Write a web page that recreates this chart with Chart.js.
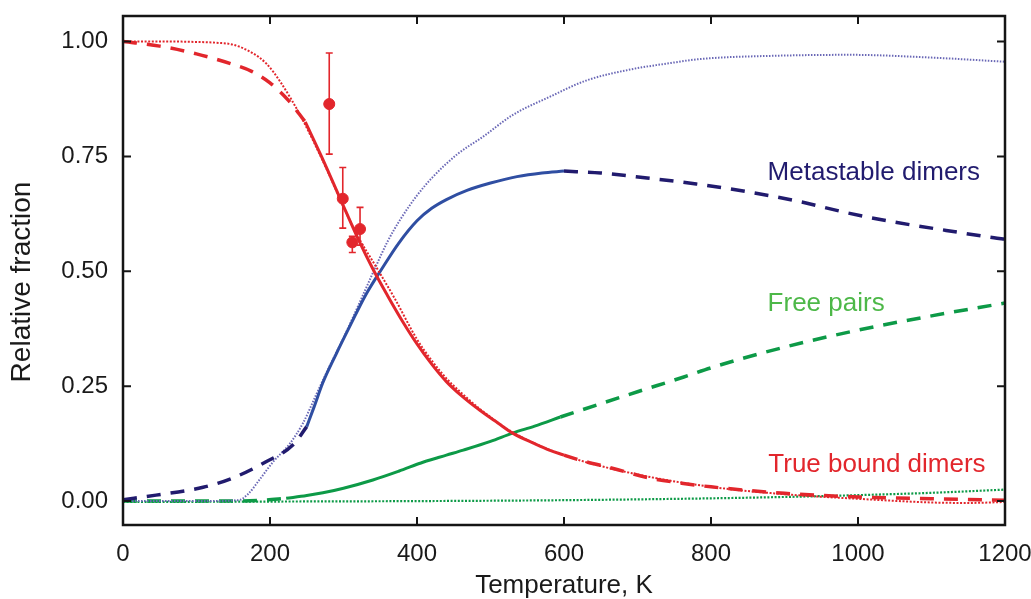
<!DOCTYPE html>
<html><head><meta charset="utf-8">
<script src="https://cdn.jsdelivr.net/npm/chart.js@4.4.1/dist/chart.umd.min.js"></script>
<style>html,body{margin:0;padding:0;background:#fff;}canvas{display:block;}</style>
</head><body>
<canvas id="c" width="1031" height="599"></canvas>
<script>
// ---------- axis ticks ----------
const xTicks = [0, 200, 400, 600, 800, 1000, 1200];
const yTicks = [0, 0.25, 0.5, 0.75, 1.0];

// ---------- True bound dimers (red) ----------
const tbdDashLowT = [0, 50, 100, 150, 175, 200, 225, 248];
const tbdDashLowV = [1.0, 0.99, 0.973, 0.95, 0.935, 0.91, 0.872, 0.825];
const tbdSolidT = [248, 270, 295, 320, 340, 360, 380, 400, 420, 440, 460, 486, 510, 530, 560, 580, 600];
const tbdSolidV = [0.825, 0.75, 0.66, 0.57, 0.505, 0.447, 0.392, 0.342, 0.298, 0.26, 0.23, 0.197, 0.17, 0.148, 0.125, 0.111, 0.1];
const tbdDashHighT = [600, 622, 667, 717, 760, 800, 900, 1000, 1100, 1200];
const tbdDashHighV = [0.1, 0.089, 0.071, 0.05, 0.039, 0.031, 0.017, 0.009, 0.005, 0.002];
const tbdDotT = [0, 60, 100, 130, 150, 175, 195, 215, 241, 260, 280, 300, 320, 345, 370, 400, 420, 440, 460, 486, 530, 600, 700, 800, 900, 1000, 1100, 1150, 1200];
const tbdDotV = [1.0, 1.0, 0.999, 0.997, 0.993, 0.976, 0.952, 0.91, 0.84, 0.78, 0.712, 0.64, 0.575, 0.508, 0.44, 0.352, 0.306, 0.267, 0.236, 0.2, 0.15, 0.1, 0.058, 0.031, 0.015, 0.005, -0.003, -0.004, -0.002];

// ---------- Metastable dimers (blue / navy) ----------
const mdDashLowT = [0, 45, 109, 149, 194, 231, 250];
const mdDashLowV = [0.003, 0.013, 0.03, 0.05, 0.085, 0.122, 0.162];
const mdSolidT = [250, 260, 272, 290, 310, 330, 352, 375, 400, 420, 440, 468, 500, 536, 570, 600];
const mdSolidV = [0.162, 0.205, 0.258, 0.32, 0.385, 0.448, 0.505, 0.561, 0.61, 0.637, 0.656, 0.676, 0.692, 0.706, 0.714, 0.718];
const mdDashHighT = [600, 650, 713, 780, 850, 920, 986, 1050, 1120, 1185, 1200];
const mdDashHighV = [0.718, 0.714, 0.703, 0.69, 0.673, 0.652, 0.627, 0.607, 0.589, 0.573, 0.57];
const mdDotT = [0, 100, 157, 170, 185, 204, 227, 245, 263, 280, 300, 320, 343, 360, 377, 400, 422, 455, 490, 530, 581, 630, 690, 740, 786, 888, 990, 1100, 1200];
const mdDotV = [0, 0, 0.002, 0.015, 0.045, 0.085, 0.125, 0.17, 0.232, 0.29, 0.355, 0.425, 0.507, 0.565, 0.612, 0.665, 0.706, 0.755, 0.793, 0.84, 0.88, 0.915, 0.939, 0.952, 0.962, 0.969, 0.971, 0.965, 0.956];

// ---------- Free pairs (green) ----------
const fpDashLowT = [0, 100, 150, 190, 222];
const fpDashLowV = [0, 0, 0, 0.002, 0.006];
const fpSolidT = [222, 250, 272, 300, 340, 375, 409, 440, 463, 500, 530, 560, 595];
const fpSolidV = [0.006, 0.012, 0.018, 0.028, 0.046, 0.065, 0.085, 0.1, 0.111, 0.13, 0.148, 0.163, 0.183];
const fpDashHighT = [595, 650, 700, 763, 800, 900, 1000, 1100, 1200];
const fpDashHighV = [0.183, 0.212, 0.238, 0.27, 0.29, 0.335, 0.372, 0.403, 0.431];
const fpDotT = [0, 200, 400, 600, 800, 900, 1000, 1100, 1200];
const fpDotV = [-0.002, -0.001, 0.0, 0.002, 0.006, 0.009, 0.013, 0.018, 0.025];

// ---------- Experimental points ----------
const expT = [280.6, 299, 312, 322.5];
const expV = [0.864, 0.658, 0.563, 0.592];
const expLo = [0.755, 0.594, 0.541, 0.557];
const expHi = [0.975, 0.726, 0.576, 0.639];

// ---------- Curve labels ----------
const labelNames = ['Metastable dimers', 'Free pairs', 'True bound dimers'];

// ---------- styling ----------
const RED = '#e2262c', BLUE = '#2f4ea2', NAVY = '#211b6e', PURPLE = '#6a68b6', GREEN = '#0d9a47';
const labelStyle = [
  {color: NAVY, at: [877, 0.6986]},
  {color: '#4db848', at: [877, 0.4135]},
  {color: RED, at: [878, 0.0631]}
];
const FONT = "'Liberation Sans', Arial, Helvetica, sans-serif";
const pts = (T, V) => T.map((t, i) => ({x: t, y: V[i]}));
const line = (T, V, color, width, dash) => ({
  data: pts(T, V), showLine: true, borderColor: color, borderWidth: width,
  borderDash: dash || [], pointRadius: 0, fill: false,
  cubicInterpolationMode: 'monotone', borderCapStyle: 'butt'
});
const DASH = [14, 10], DOT = [2, 1.6];
const noPad = s => { s.paddingTop = 0; s.paddingBottom = 0; s.paddingLeft = 0; s.paddingRight = 0; };

const decor = {
  id: 'decor',
  beforeDatasetsDraw(chart) {
    const {ctx, scales: {x, y}} = chart;
    ctx.save();
    ctx.strokeStyle = RED; ctx.lineWidth = 1.6;
    expT.forEach((t, i) => {
      const px = x.getPixelForValue(t);
      const top = y.getPixelForValue(expHi[i]), bot = y.getPixelForValue(expLo[i]);
      ctx.beginPath();
      ctx.moveTo(px, top); ctx.lineTo(px, bot);
      ctx.moveTo(px - 3.5, top); ctx.lineTo(px + 3.5, top);
      ctx.moveTo(px - 3.5, bot); ctx.lineTo(px + 3.5, bot);
      ctx.stroke();
    });
    ctx.restore();
  },
  afterDraw(chart) {
    const {ctx, chartArea: a, scales: {x, y}} = chart;
    ctx.save();
    ctx.strokeStyle = '#151515'; ctx.lineWidth = 2.5;
    ctx.strokeRect(a.left, a.top, a.right - a.left, a.bottom - a.top);
    ctx.lineWidth = 2;
    ctx.beginPath();
    xTicks.forEach(v => {
      const p = x.getPixelForValue(v);
      ctx.moveTo(p, a.bottom); ctx.lineTo(p, a.bottom - 8);
      ctx.moveTo(p, a.top); ctx.lineTo(p, a.top + 8);
    });
    yTicks.forEach(v => {
      const p = y.getPixelForValue(v);
      ctx.moveTo(a.left, p); ctx.lineTo(a.left + 8, p);
      ctx.moveTo(a.right, p); ctx.lineTo(a.right - 8, p);
    });
    ctx.stroke();
    // curve labels
    ctx.font = '26px ' + FONT;
    ctx.textAlign = 'left'; ctx.textBaseline = 'alphabetic';
    labelNames.forEach((s, i) => {
      const st = labelStyle[i];
      ctx.fillStyle = st.color;
      ctx.fillText(s, x.getPixelForValue(st.at[0]), y.getPixelForValue(st.at[1]));
    });
    // y title
    ctx.fillStyle = '#1a1a1a';
    ctx.font = '28px ' + FONT;
    ctx.translate(22, 282);
    ctx.rotate(-Math.PI / 2);
    ctx.textAlign = 'center'; ctx.textBaseline = 'middle';
    ctx.fillText('Relative fraction', 0, 0);
    ctx.restore();
  }
};

new Chart(document.getElementById('c'), {
  type: 'scatter',
  data: {
    datasets: [
      {data: pts(expT, expV), pointRadius: 5.5, pointBackgroundColor: RED, pointBorderColor: RED, showLine: false},
      line(tbdSolidT, tbdSolidV, RED, 3),
      line(tbdDashLowT, tbdDashLowV, RED, 3.5, DASH),
      line(tbdDashHighT, tbdDashHighV, RED, 3.5, DASH),
      line(tbdDotT, tbdDotV, RED, 2, DOT),
      line(mdSolidT, mdSolidV, BLUE, 3),
      line(mdDashLowT, mdDashLowV, NAVY, 3.5, DASH),
      line(mdDashHighT, mdDashHighV, NAVY, 3.5, DASH),
      line(mdDotT, mdDotV, PURPLE, 2, [1.5, 1.5]),
      line(fpSolidT, fpSolidV, GREEN, 3),
      line(fpDashLowT, fpDashLowV, GREEN, 3.5, DASH),
      line(fpDashHighT, fpDashHighV, GREEN, 3.5, DASH),
      line(fpDotT, fpDotV, GREEN, 2.2, DOT)
    ]
  },
  options: {
    responsive: false, animation: false,
    layout: {padding: {top: 16, right: 26, left: 0, bottom: 0}},
    plugins: {legend: {display: false}, tooltip: {enabled: false}},
    scales: {
      x: {
        type: 'linear', min: 0, max: 1200,
        afterBuildTicks: s => { s.ticks = xTicks.map(v => ({value: v})); },
        afterFit: s => { s.height = 74; noPad(s); },
        grid: {display: false, drawTicks: false}, border: {display: false},
        ticks: {color: '#1a1a1a', font: {family: FONT, size: 24}, padding: 14.5, maxRotation: 0,
                callback: v => String(v)},
        title: {display: true, text: 'Temperature, K', color: '#1a1a1a',
                font: {family: FONT, size: 26}, padding: {top: 0, bottom: -2}}
      },
      y: {
        type: 'linear', min: -0.052, max: 1.0555,
        afterBuildTicks: s => { s.ticks = yTicks.map(v => ({value: v})); },
        afterFit: s => { s.width = 123; noPad(s); },
        grid: {display: false, drawTicks: false}, border: {display: false},
        ticks: {color: '#1a1a1a', font: {family: FONT, size: 24}, padding: 15,
                callback: v => Number(v).toFixed(2)}
      }
    }
  },
  plugins: [decor]
});
</script>
</body></html>
